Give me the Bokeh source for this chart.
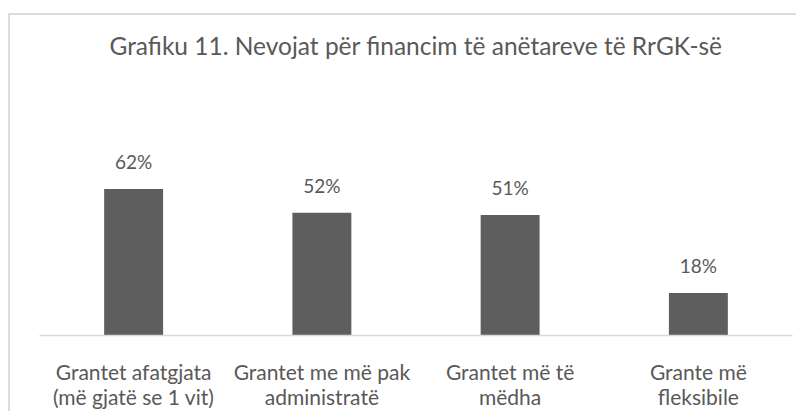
from bokeh.plotting import figure
from bokeh.models import Range1d, ColumnDataSource, LabelSet, Label, FixedTicker
from bokeh.core.properties import value
from bokeh.embed import file_html
from bokeh.resources import INLINE

# ---- data ----
categories = [
    "Grantet afatgjata\n(më gjatë se 1 vit)",
    "Grantet me më pak\nadministratë",
    "Grantet më të\nmëdha",
    "Grante më\nfleksibile",
]
values = [62, 52, 51, 18]
value_labels = [f"{v}%" for v in values]
title_text = "Grafiku 11. Nevojat për financim të anëtareve të RrGK-së"

FONT = "Lato"
TEXT = "#595959"
BAR = "#5e5e5e"
GRID = "#d9d9d9"

n = len(categories)
xpos = [i + 0.5 for i in range(n)]
source = ColumnDataSource(dict(x=xpos, val=values, lab=value_labels))

p = figure(
    x_range=Range1d(0, n),
    y_range=Range1d(0, 135.5),
    width=788, height=398,
    output_backend="svg", toolbar_location=None,
    min_border_left=29, min_border_right=6,
    min_border_top=0, min_border_bottom=78,
)
p.styles = {"border-left": "2px solid #dcdcdc", "border-top": "2px solid #dcdcdc",
            "margin-top": "13px", "margin-left": "8px"}

# chart title, centred over the plot area
p.add_layout(Label(x=n / 2, y=122.8, text=title_text,
                   text_align="center", text_baseline="alphabetic",
                   text_font=FONT, text_font_size="24.5px", text_color=TEXT))

p.vbar(x="x", top="val", width=0.313, source=source, color=BAR, line_color=None)

labels = LabelSet(x="x", y="val", text="lab", source=source, text_align="center",
                  text_baseline="alphabetic", y_offset=20, text_font=value(FONT),
                  text_font_size=value("19px"), text_color=value(TEXT))
p.add_layout(labels)

p.outline_line_color = None
p.xgrid.grid_line_color = None
p.ygrid.grid_line_color = None
p.yaxis.visible = False

xa = p.xaxis[0]
xa.ticker = FixedTicker(ticks=xpos, minor_ticks=[])
xa.major_label_overrides = {x: c for x, c in zip(xpos, categories)}
xa.axis_line_color = GRID
xa.axis_line_width = 1.5
xa.major_tick_line_color = None
xa.minor_tick_line_color = None
xa.major_label_standoff = 17
xa.major_label_text_font = FONT
xa.major_label_text_font_size = "21px"
xa.major_label_text_color = TEXT
xa.major_label_text_line_height = 1.0

open("out.html", "w").write(file_html(p, INLINE))
